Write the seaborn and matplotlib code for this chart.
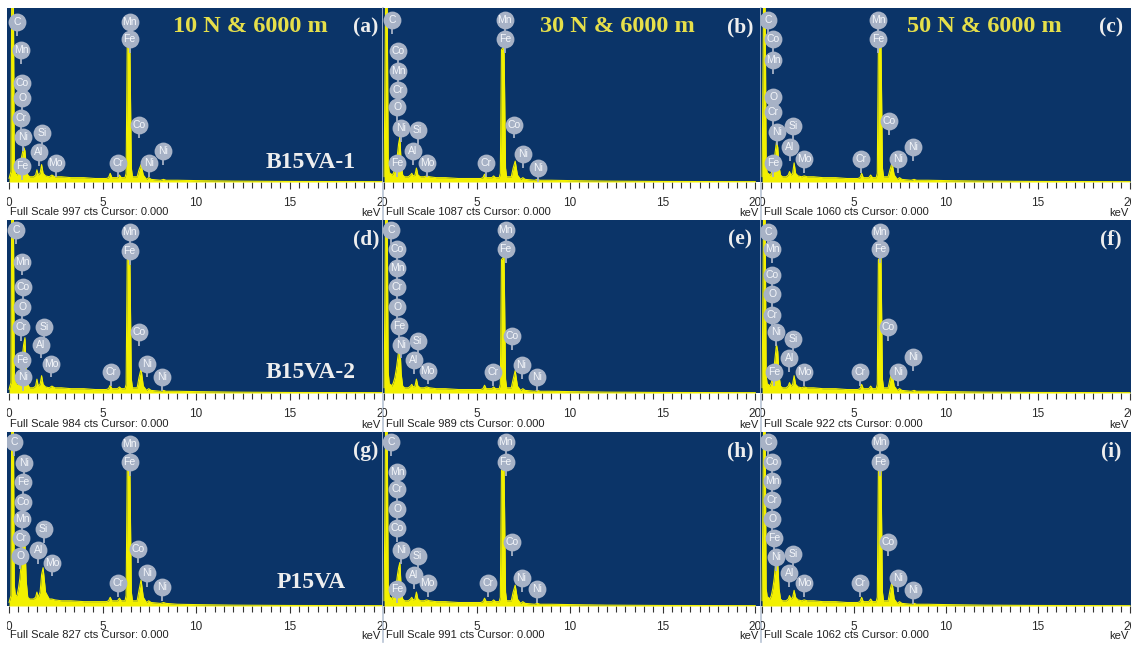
import numpy as np
import pandas as pd
import matplotlib
matplotlib.use("Agg")
import matplotlib.pyplot as plt
from matplotlib.ticker import MultipleLocator
import seaborn as sns

sns.set_theme(style="white")
plt.rcParams['font.family'] = ['Liberation Sans', 'DejaVu Sans']

# ---------------- data ----------------
ENERGY = [0.00, 0.10, 0.15, 0.22, 0.28, 0.34, 0.42, 0.50, 0.58, 0.66, 0.72, 0.78, 0.85, 0.92,
          1.00, 1.10, 1.30, 1.42, 1.49, 1.56, 1.66, 1.74, 1.82, 1.95, 2.15, 2.29, 2.45, 2.80,
          3.30, 4.00, 4.60, 5.20, 5.32, 5.41, 5.50, 5.80, 5.90, 6.00, 6.20, 6.26, 6.32, 6.46,
          6.54, 6.60, 6.85, 6.95, 7.06, 7.18, 7.35, 7.47, 7.60, 8.10, 8.26, 8.40, 9.00, 10.0,
          12.0, 15.0, 20.0]

# intensities in % of full scale
SPEC_A = [2, 6, 130, 130, 10, 5, 4, 6, 9, 14, 17, 20, 18, 9, 4, 3, 3, 4, 7, 4, 5, 10, 5, 3.5, 3,
          4, 3, 3, 2.5, 2.5, 2, 2, 2.5, 5, 2.5, 2.5, 4, 2.5, 2.5, 5, 78, 80, 8, 3, 3, 7, 10, 4,
          1.5, 2.5, 1.5, 1, 1.5, 1, 1, 0.8, 0.5, 0.3, 0.2]
SPEC_B = [3, 130, 130, 12, 5, 5, 4, 5, 8, 12, 16, 22, 26, 10, 4, 3, 3, 4, 5, 3.5, 4, 8, 4, 3, 3,
          3.5, 3, 2.5, 2.5, 2, 2, 2, 2.5, 4.5, 2.5, 2.5, 3.5, 2.5, 2.5, 5, 76, 78, 8, 3, 3, 8, 12, 4,
          1.5, 2.5, 1.5, 1, 1.5, 1, 1, 0.8, 0.5, 0.3, 0.2]
SPEC_C = [3, 130, 130, 10, 5, 5, 4, 5, 8, 13, 18, 23, 20, 9, 4, 3, 3, 4, 6, 4, 5, 11, 5, 3.5, 3,
          3.5, 3, 3, 2.5, 2.5, 2, 2, 2.5, 5, 2.5, 2.5, 4, 2.5, 2.5, 5, 78, 80, 8, 3, 3, 7, 11, 4,
          1.5, 2.5, 1.5, 1, 1.5, 1, 1, 0.8, 0.5, 0.3, 0.2]
SPEC_D = [2, 6, 130, 130, 10, 6, 5, 7, 10, 16, 22, 28, 32, 12, 5, 3, 3, 4, 8, 4, 5, 10, 5, 3.5, 3,
          4, 3, 3, 2.5, 2.5, 2, 2, 2.5, 4.5, 2.5, 2.5, 3.5, 2.5, 2.5, 5, 77, 79, 8, 3, 3, 9, 14, 4,
          1.5, 2.5, 1.5, 1, 1.5, 1, 1, 0.8, 0.5, 0.3, 0.2]
SPEC_E = [3, 130, 130, 12, 5, 5, 4, 6, 9, 14, 19, 24, 28, 11, 4, 3, 3, 4, 5, 3.5, 4, 8, 4, 3, 3,
          3.5, 3, 2.5, 2.5, 2, 2, 2, 2.5, 4.5, 2.5, 2.5, 3.5, 2.5, 2.5, 5, 77, 79, 8, 3, 3, 8, 13, 4,
          1.5, 2.5, 1.5, 1, 1.5, 1, 1, 0.8, 0.5, 0.3, 0.2]
SPEC_F = [3, 130, 130, 10, 5, 5, 4, 6, 10, 16, 22, 28, 24, 10, 4, 3, 3, 4, 6, 4, 5, 10, 5, 3.5, 3,
          3.5, 3, 3, 2.5, 2.5, 2, 2, 2.5, 5, 2.5, 2.5, 4, 2.5, 2.5, 5, 77, 79, 8, 3, 3, 8, 12, 4,
          1.5, 2.5, 1.5, 1, 1.5, 1, 1, 0.8, 0.5, 0.3, 0.2]
SPEC_G = [2, 6, 130, 130, 12, 6, 6, 10, 16, 26, 34, 40, 36, 14, 5, 4, 4, 5, 8, 5, 8, 18, 22, 8, 4,
          4, 3.5, 3, 3, 2.5, 2.5, 2.5, 3, 5, 3, 3, 4.5, 3, 3, 6, 78, 80, 8, 3, 3, 9, 15, 5,
          2, 3, 2, 1.5, 2, 1.5, 1, 0.8, 0.5, 0.3, 0.2]
SPEC_H = [3, 130, 130, 12, 5, 5, 4, 6, 9, 13, 18, 22, 25, 10, 4, 3, 3, 4, 5, 3.5, 4, 8, 4, 3, 3,
          3.5, 3, 2.5, 2.5, 2, 2, 2, 2.5, 4.5, 2.5, 2.5, 3.5, 2.5, 2.5, 5, 78, 80, 8, 3, 3, 8, 12, 4,
          1.5, 2.5, 1.5, 1, 1.5, 1, 1, 0.8, 0.5, 0.3, 0.2]
SPEC_I = [3, 130, 130, 10, 5, 5, 4, 6, 10, 16, 23, 29, 25, 10, 4, 3, 3, 4, 6, 4, 5, 9, 5, 3.5, 3,
          3.5, 3, 3, 2.5, 2.5, 2, 2, 2.5, 5, 2.5, 2.5, 4, 2.5, 2.5, 5, 78, 80, 8, 3, 3, 9, 14, 4,
          1.5, 2.5, 1.5, 1, 1.5, 1, 1, 0.8, 0.5, 0.3, 0.2]

# element markers: (symbol, energy keV, height % of full scale)
LBL_A = [("C", 0.45, 92), ("Mn", 0.65, 76), ("Co", 0.7, 57), ("O", 0.7, 48), ("Cr", 0.65, 37),
         ("Ni", 0.75, 26), ("Fe", 0.7, 9), ("Si", 1.75, 28), ("Al", 1.6, 17), ("Mo", 2.5, 11),
         ("Mn", 6.45, 92), ("Fe", 6.45, 82), ("Co", 6.95, 33), ("Cr", 5.85, 11), ("Ni", 7.5, 11),
         ("Ni", 8.25, 18)]
LBL_B = [("C", 0.43, 93), ("Co", 0.75, 75), ("Mn", 0.75, 64), ("Cr", 0.75, 53), ("O", 0.7, 43),
         ("Ni", 0.9, 31), ("Fe", 0.7, 11), ("Si", 1.8, 30), ("Al", 1.55, 18), ("Mo", 2.3, 11),
         ("Mn", 6.5, 93), ("Fe", 6.5, 82), ("Co", 7.0, 33), ("Cr", 5.5, 11), ("Ni", 7.5, 16),
         ("Ni", 8.3, 8)]
LBL_C = [("C", 0.33, 93), ("Co", 0.6, 82), ("Mn", 0.6, 70), ("O", 0.6, 49), ("Cr", 0.6, 40),
         ("Ni", 0.8, 29), ("Fe", 0.6, 11), ("Si", 1.7, 32), ("Al", 1.5, 20), ("Mo", 2.3, 13),
         ("Mn", 6.3, 93), ("Fe", 6.3, 82), ("Co", 6.9, 35), ("Cr", 5.4, 13), ("Ni", 7.4, 13),
         ("Ni", 8.2, 20)]
LBL_D = [("C", 0.37, 94), ("Mn", 0.7, 76), ("Co", 0.75, 61), ("O", 0.7, 50), ("Cr", 0.65, 38),
         ("Si", 1.87, 38), ("Al", 1.7, 28), ("Fe", 0.7, 19), ("Mo", 2.25, 17), ("Ni", 0.75, 9),
         ("Mn", 6.45, 93), ("Fe", 6.45, 82), ("Co", 6.95, 35), ("Cr", 5.45, 12), ("Ni", 7.4, 17),
         ("Ni", 8.2, 9)]
LBL_E = [("C", 0.38, 94), ("Co", 0.7, 83), ("Mn", 0.7, 72), ("Cr", 0.7, 61), ("O", 0.7, 50),
         ("Fe", 0.8, 39), ("Ni", 0.9, 28), ("Si", 1.8, 30), ("Al", 1.6, 19), ("Mo", 2.35, 13),
         ("Mn", 6.55, 94), ("Fe", 6.55, 83), ("Co", 6.9, 33), ("Cr", 5.85, 12), ("Ni", 7.4, 16),
         ("Ni", 8.25, 9)]
LBL_F = [("C", 0.33, 93), ("Mn", 0.55, 83), ("Co", 0.55, 68), ("O", 0.55, 57), ("Cr", 0.55, 45),
         ("Ni", 0.76, 35), ("Si", 1.7, 31), ("Al", 1.47, 20), ("Fe", 0.65, 12), ("Mo", 2.3, 12),
         ("Mn", 6.4, 93), ("Fe", 6.4, 83), ("Co", 6.85, 38), ("Cr", 5.33, 12), ("Ni", 7.4, 12),
         ("Ni", 8.2, 21)]
LBL_G = [("C", 0.27, 94), ("Ni", 0.8, 82), ("Fe", 0.75, 71), ("Co", 0.75, 60), ("Mn", 0.7, 50),
         ("Cr", 0.65, 39), ("O", 0.6, 29), ("Si", 1.85, 44), ("Al", 1.57, 32), ("Mo", 2.3, 25),
         ("Mn", 6.45, 93), ("Fe", 6.45, 83), ("Co", 6.9, 33), ("Cr", 5.8, 13), ("Ni", 7.4, 19),
         ("Ni", 8.2, 11)]
LBL_H = [("C", 0.38, 94), ("Mn", 0.7, 77), ("Cr", 0.7, 67), ("O", 0.7, 56), ("Co", 0.7, 45),
         ("Ni", 0.9, 32), ("Si", 1.8, 29), ("Al", 1.6, 18), ("Fe", 0.7, 10), ("Mo", 2.35, 13),
         ("Mn", 6.55, 94), ("Fe", 6.55, 83), ("Co", 6.9, 37), ("Cr", 5.6, 13), ("Ni", 7.4, 16),
         ("Ni", 8.25, 10)]
LBL_I = [("C", 0.33, 94), ("Co", 0.55, 83), ("Mn", 0.55, 72), ("Cr", 0.55, 61), ("O", 0.55, 50),
         ("Fe", 0.65, 39), ("Ni", 0.76, 28), ("Si", 1.7, 30), ("Al", 1.47, 19), ("Mo", 2.3, 13),
         ("Mn", 6.4, 94), ("Fe", 6.4, 83), ("Co", 6.85, 37), ("Cr", 5.33, 13), ("Ni", 7.4, 16),
         ("Ni", 8.2, 9)]

FULL_SCALE = [997, 1087, 1060, 984, 989, 922, 827, 991, 1062]
PANEL_TAGS = ["(a)", "(b)", "(c)", "(d)", "(e)", "(f)", "(g)", "(h)", "(i)"]
HEADERS = ["10 N & 6000 m", "30 N & 6000 m", "50 N & 6000 m"]
SAMPLES = ["B15VA-1", "B15VA-2", "P15VA"]
TICK_VALUES = [0, 5, 10, 15, 20]

SPECTRA = [SPEC_A, SPEC_B, SPEC_C, SPEC_D, SPEC_E, SPEC_F, SPEC_G, SPEC_H, SPEC_I]
LABELS = [LBL_A, LBL_B, LBL_C, LBL_D, LBL_E, LBL_F, LBL_G, LBL_H, LBL_I]

# ---------------- layout / style ----------------
W, H = 1136, 646
DARK = "#0b3468"
YEL = "#f2f000"
BADGE = "#a7b2c6"
HEAD_YEL = "#e6df4a"
SERIF = ["Liberation Serif", "DejaVu Serif"]

COL_X = [(7, 383), (383, 761), (761, 1131)]
COL_XLIM = [(-0.11, 20.0), (-0.06, 20.3), (-0.06, 20.05)]
ROW_Y = [(8, 182, 219), (220, 393, 431), (432, 606, 642)]

fig = plt.figure(figsize=(W / 100, H / 100), dpi=100)
fig.patch.set_facecolor("white")


def frect(x0, y0, x1, y1):
    return [x0 / W, 1 - y1 / H, (x1 - x0) / W, (y1 - y0) / H]


for k in range(9):
    r, c = divmod(k, 3)
    x0, x1 = COL_X[c]
    yt, yb, ys = ROW_Y[r]

    bg = fig.add_axes(frect(x0, yt, x1, ys))
    bg.set_facecolor("white")
    bg.set_xticks([]); bg.set_yticks([])
    for s in bg.spines.values():
        s.set_visible(False)
    if c > 0:
        bg.spines["left"].set_visible(True)
        bg.spines["left"].set_color("#b8c4d4")
        bg.spines["left"].set_linewidth(1.2)

    ax = fig.add_axes(frect(x0, yt, x1, yb))
    ax.set_facecolor(DARK)
    df = pd.DataFrame({"keV": ENERGY, "pct": SPECTRA[k]})
    ax.fill_between(df["keV"], df["pct"], 0, color=YEL, linewidth=0, zorder=2)
    sns.lineplot(data=df, x="keV", y="pct", ax=ax, color=YEL, linewidth=0.8, zorder=3)
    ax.set_xlim(*COL_XLIM[c])
    ax.set_ylim(0, 100)
    ax.set_xlabel(""); ax.set_ylabel("")
    ax.set_yticks([])
    ax.set_xticks(TICK_VALUES)
    ax.xaxis.set_minor_locator(MultipleLocator(0.5))
    ax.tick_params(axis="x", which="both", direction="out", bottom=True, colors="#333333",
                   labelcolor="#2a2a2a", labelsize=8.5, pad=6, width=0.8)
    ax.tick_params(axis="x", which="major", length=5)
    ax.tick_params(axis="x", which="minor", length=4)
    for s in ax.spines.values():
        s.set_visible(False)
    ax.grid(False)
    # tick labels are cut at the panel border, as in the screenshot
    for lab in ax.get_xticklabels():
        lab.set_clip_on(True)
        lab.set_clip_box(bg.bbox)

    for sym, e, lev in LABELS[k]:
        ax.vlines(e, lev - 8, lev - 4.5, color=BADGE, linewidth=1.3, zorder=4)
        ax.scatter([e], [lev], s=165, color=BADGE, linewidths=0, zorder=5)
        ax.text(e, lev, sym, ha="center", va="center", fontsize=7.5, color="#f4f6fa", zorder=6)

    fig.text((x0 + 3) / W, 1 - (ys - 7) / H, f"Full Scale {FULL_SCALE[k]} cts Cursor: 0.000",
             ha="left", va="center", fontsize=8, color="#222222")
    fig.text((x1 - 3) / W, 1 - (ys - 6) / H, "keV", ha="right", va="center",
             fontsize=8, color="#222222")

    tag_x = [366, 740, 1111][c]
    fig.text(tag_x / W, 1 - (yt + 19) / H, PANEL_TAGS[k], ha="center", va="center",
             fontsize=15.5, fontweight="bold", color="#eeeeee", family=SERIF)

for c, head in enumerate(HEADERS):
    cx = [250, 617, 984][c]
    fig.text(cx / W, 1 - 27 / H, head, ha="center", va="center", fontsize=17.5,
             fontweight="bold", color=HEAD_YEL, family=SERIF)

for r, samp in enumerate(SAMPLES):
    cy = [162, 372, 583][r]
    fig.text(311 / W, 1 - cy / H, samp, ha="center", va="center", fontsize=17,
             fontweight="bold", color="#eeeeee", family=SERIF)

fig.savefig("out.png", dpi=100, facecolor="white")
